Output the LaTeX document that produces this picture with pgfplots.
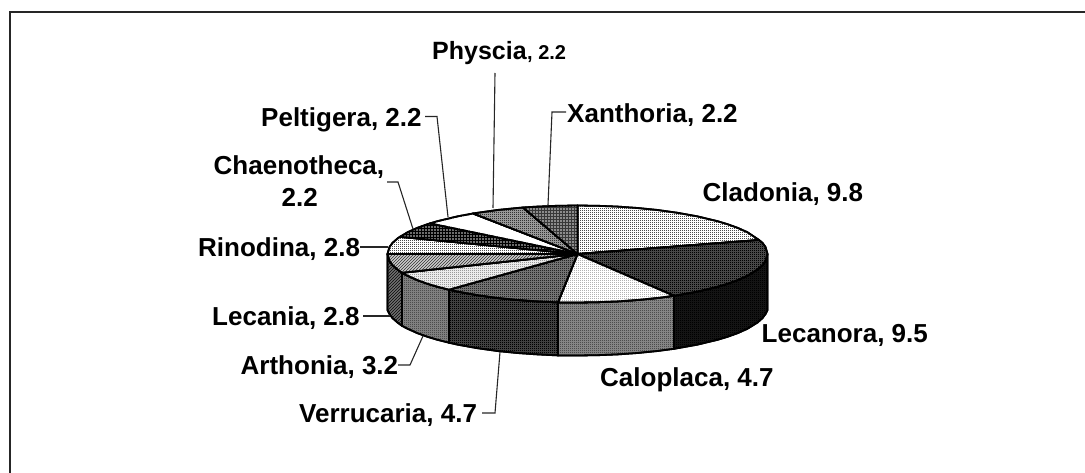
\documentclass[border=0pt]{standalone}
\usepackage{fontspec}
\setmainfont{Liberation Sans}
\usepackage{pgfplots}
\pgfplotsset{compat=1.18}
\usetikzlibrary{patterns}
\pgfdeclarepatternformonly{htA}{\pgfqpoint{-.5pt}{-.5pt}}{\pgfqpoint{1.5pt}{1.5pt}}{\pgfqpoint{2pt}{2pt}}{\pgfpathrectangle{\pgfpointorigin}{\pgfqpoint{1pt}{1pt}}\pgfusepath{fill}}
\pgfdeclarepatternformonly{htB}{\pgfqpoint{-.5pt}{-.5pt}}{\pgfqpoint{2.5pt}{2.5pt}}{\pgfqpoint{3pt}{3pt}}{\pgfpathrectangle{\pgfpointorigin}{\pgfqpoint{1.5pt}{1.5pt}}\pgfusepath{fill}}
\pgfdeclarepatternformonly{htD}{\pgfqpoint{-.5pt}{-.5pt}}{\pgfqpoint{3.5pt}{3.5pt}}{\pgfqpoint{3pt}{3pt}}{\pgfsetlinewidth{1pt}\pgfpathmoveto{\pgfqpoint{0pt}{0pt}}\pgfpathlineto{\pgfqpoint{3pt}{3pt}}\pgfusepath{stroke}}
\tikzset{
  sl/.style n args={3}{draw=black,line width=1.8pt,line join=round,preaction={fill=black!#1!white},pattern=#3,pattern color=black!#2!white},
  lead/.style={draw=black!85,line width=1.1pt,mark=none},
  lab/.style={anchor=base west,inner sep=0pt,font=\fontsize{26}{28}\selectfont\bfseries}
}
\begin{document}
\begin{tikzpicture}
\useasboundingbox (0,0) rectangle (1085pt,473pt);
\begin{axis}[
  at={(0,0)},anchor=south west,
  scale only axis,width=1085pt,height=473pt,
  xmin=0,xmax=1085,ymin=0,ymax=473,y dir=reverse,
  axis lines=none,clip=true
]
% frame
\addplot[draw=black!85,line width=2.4pt,mark=none] coordinates {(10,473)(10,12)(1085,12)};
% sides
\addplot[sl={92}{100}{htA}] coordinates {(767.5,254)(767.5,310)(765.5,314)(762.5,318.1)(757.5,322.5)(747.5,328.7)(737.5,333.2)(727.5,336.8)(717.5,339.8)(697.5,344.6)(677.5,348.2)(674,348.8)(674,295.8)(677.5,295.2)(697.5,291.6)(717.5,286.8)(727.5,283.8)(737.5,280.2)(747.5,275.7)(757.5,269.5)(762.5,265.1)(765.5,261)} -- cycle;
\addplot[sl={48}{70}{htA}] coordinates {(674,295.8)(674,348.8)(657.5,351)(637.5,353)(617.5,354.4)(597.5,355.2)(577.5,355.5)(558,355.4)(558,302.4)(577.5,302.5)(597.5,302.2)(617.5,301.4)(637.5,300)(657.5,298)} -- cycle;
\addplot[sl={75}{100}{htA}] coordinates {(558,302.4)(558,355.4)(537.5,354.4)(517.5,353)(497.5,351)(477.5,348.2)(457.5,344.6)(449,342.7)(449,289.7)(457.5,291.6)(477.5,295.2)(497.5,298)(517.5,300)(537.5,301.4)} -- cycle;
\addplot[sl={50}{70}{htA}] coordinates {(449,289.7)(449,342.7)(437.5,339.8)(427.5,336.8)(417.5,333.2)(407.5,328.7)(402,325.8)(402,272.8)(407.5,275.7)(417.5,280.2)(427.5,283.8)(437.5,286.8)} -- cycle;
\addplot[sl={50}{90}{htD}] coordinates {(402,272.8)(402,325.8)(397.5,322.5)(392.5,318.1)(389.5,314)(387.5,310)(387.5,254)(389.5,261)(392.5,265.1)(397.5,269.5)} -- cycle;
% top face
\addplot[sl={0}{70}{htA}] coordinates {(577.5,254)(577.5,205.5)(597.5,205.8)(617.5,206.6)(637.5,208)(657.5,210)(677.5,212.8)(697.5,216.4)(717.5,221.2)(727.5,224.2)(737.5,227.8)(747.5,232.3)(759,240)} -- cycle;
\addplot[sl={72}{100}{htA}] coordinates {(577.5,254)(759,240)(762.5,242.9)(765.5,247)(767.5,254)(765.5,261)(762.5,265.1)(757.5,269.5)(747.5,275.7)(737.5,280.2)(727.5,283.8)(717.5,286.8)(697.5,291.6)(677.5,295.2)(674,295.8)} -- cycle;
\addplot[sl={0}{30}{htA}] coordinates {(577.5,254)(674,295.8)(657.5,298)(637.5,300)(617.5,301.4)(597.5,302.2)(577.5,302.5)(558,302.4)} -- cycle;
\addplot[sl={55}{85}{htA}] coordinates {(577.5,254)(558,302.4)(537.5,301.4)(517.5,300)(497.5,298)(477.5,295.2)(457.5,291.6)(449,289.7)} -- cycle;
\addplot[sl={8}{40}{htA}] coordinates {(577.5,254)(449,289.7)(437.5,286.8)(427.5,283.8)(417.5,280.2)(407.5,275.7)(402,272.8)} -- cycle;
\addplot[sl={10}{70}{htD}] coordinates {(577.5,254)(402,272.8)(397.5,269.5)(392.5,265.1)(389.5,261)(387.5,254)} -- cycle;
\addplot[sl={0}{70}{htA}] coordinates {(577.5,254)(387.5,254)(389.5,247)(392.5,242.9)(397.5,238.5)(400,236.8)} -- cycle;
\addplot[sl={100}{0}{htB}] coordinates {(577.5,254)(400,236.8)(407.5,232.3)(417.5,227.8)(427.5,224.2)(430,223.4)} -- cycle;
\addplot[sl={0}{0}{htA}] coordinates {(577.5,254)(430,223.4)(437.5,221.2)(457.5,216.4)(473,213.5)} -- cycle;
\addplot[sl={40}{80}{htA}] coordinates {(577.5,254)(473,213.5)(477.5,212.8)(497.5,210)(517.5,208)(523,207.5)} -- cycle;
\addplot[sl={78}{0}{htB}] coordinates {(577.5,254)(523,207.5)(537.5,206.6)(557.5,205.8)(577.5,205.5)} -- cycle;
% leaders
\addplot[lead] coordinates {(495,73)(493,208)};
\addplot[lead] coordinates {(566,112)(552,112)(548,205)};
\addplot[lead] coordinates {(425,116.5)(437,116.5)(448,217)};
\addplot[lead] coordinates {(387,182)(398,182)(413,229)};
\addplot[lead] coordinates {(360,247)(388,247)};
\addplot[lead] coordinates {(363,316)(390,316)};
\addplot[lead] coordinates {(398,365)(410,365)(423,336)};
\addplot[lead] coordinates {(482,413)(495,413)(500,352)};
% labels
\node[anchor=base west,inner sep=0pt,font=\fontsize{25}{28}\selectfont\bfseries] at (axis cs:432,60) {Physcia};
\node[anchor=base west,inner sep=0pt,font=\fontsize{20}{22}\selectfont\bfseries] at (axis cs:527,60) {, 2.2};
\node[lab] at (axis cs:567,122.5) {Xanthoria, 2.2};
\node[lab] at (axis cs:261,127) {Peltigera, 2.2};
\node[lab] at (axis cs:213.5,175) {Chaenotheca,};
\node[lab] at (axis cs:281.5,207) {2.2};
\node[lab] at (axis cs:198,256.5) {Rinodina, 2.8};
\node[lab] at (axis cs:212,326) {Lecania, 2.8};
\node[lab] at (axis cs:240.5,374) {Arthonia, 3.2};
\node[lab] at (axis cs:299,422) {Verrucaria, 4.7};
\node[lab] at (axis cs:600,386) {Caloplaca, 4.7};
\node[lab] at (axis cs:761.5,342) {Lecanora, 9.5};
\node[lab] at (axis cs:702.5,202) {Cladonia, 9.8};
\end{axis}
\end{tikzpicture}
\end{document}
